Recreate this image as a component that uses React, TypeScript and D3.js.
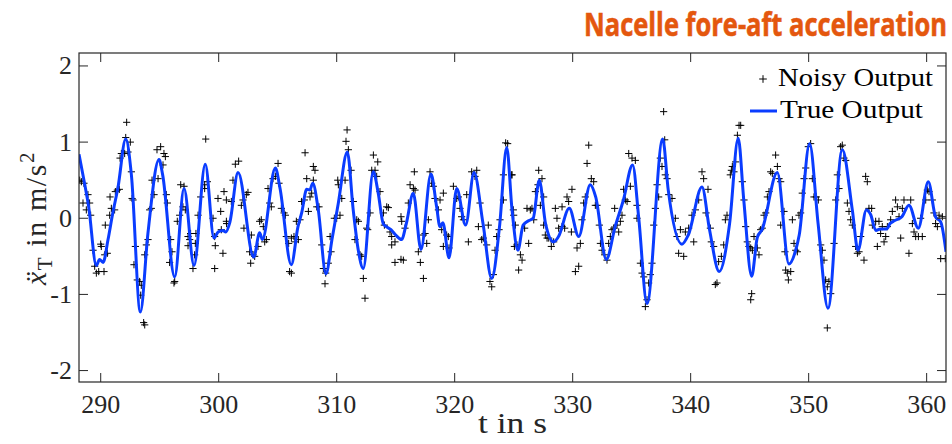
import React from "react";
import * as d3 from "d3";

const xTicks = [290, 300, 310, 320, 330, 340, 350, 360];
const yTicks = [-2, -1, 0, 1, 2];
const xDomain: [number, number] = [288.16, 361.64];
const yDomain: [number, number] = [-2.15, 2.17];

const titleText = "Nacelle fore-aft acceleration";
const legendLabels = ["Noisy Output", "True Output"];

// True output: key samples (t, value)
const trueOutput: [number, number][] = [
  [288.16, 0.84], [288.58, 0.5], [288.98, 0.15], [289.63, -0.62], [289.9, -0.54], [290.2, -0.58],
  [290.62, -0.28], [291.0, 0.05], [291.47, 0.41], [292.12, 1.04], [292.6, 0.57], [293.36, -1.23],
  [294.0, -0.2], [294.94, 0.77], [295.25, 0.57], [296.27, -0.77], [297.06, 0.39], [297.91, -0.62],
  [298.86, 0.71], [299.6, -0.26], [299.95, -0.18], [300.35, -0.16], [300.6, -0.18], [300.95, -0.05],
  [301.64, 0.6], [302.97, -0.51], [303.47, -0.19], [303.7, -0.28], [304.8, 0.66], [305.2, 0.39],
  [306.15, -0.61], [306.72, -0.11], [307.03, 0.07], [307.46, 0.38], [307.72, 0.37], [307.97, 0.46],
  [308.44, 0.11], [309.09, -0.73], [309.6, -0.28], [310.14, 0.2], [310.9, 0.87], [311.4, 0.11],
  [311.83, -0.42], [312.25, -0.66], [313.1, 0.61], [313.52, 0.33], [313.94, -0.07], [314.2, -0.11],
  [314.6, -0.15], [315.0, -0.22], [315.5, -0.28], [315.9, -0.07], [316.49, 0.33], [317.14, -0.41],
  [317.99, 0.58], [318.47, 0.15], [318.75, -0.11], [319.0, -0.06], [319.52, -0.52], [320.17, 0.39],
  [320.93, -0.09], [321.64, 0.6], [322.4, -0.07], [323.14, -0.79], [323.8, -0.11], [324.41, 0.93],
  [324.86, 0.11], [325.36, -0.42], [325.8, -0.09], [326.3, -0.03], [326.65, 0.0], [327.17, 0.5],
  [327.7, -0.07], [328.39, -0.31], [328.8, -0.24], [329.71, 0.13], [330.51, -0.24], [331.49, 0.44],
  [331.95, 0.28], [332.85, -0.54], [333.6, -0.11], [334.3, 0.24], [335.08, 0.7], [335.6, 0.0],
  [336.3, -1.12], [337.63, 1.04], [338.1, 0.37], [339.26, -0.34], [339.8, -0.22], [340.96, 0.41],
  [341.6, -0.15], [342.42, -0.7], [343.3, -0.07], [344.03, 1.05], [344.5, 0.24], [345.17, -0.76],
  [345.65, -0.25], [346.05, -0.15], [347.34, 0.6], [348.33, -0.6], [348.9, -0.42], [349.2, -0.22],
  [350.08, 0.98], [350.8, -0.07], [351.64, -1.18], [352.85, 0.9], [353.7, 0.11], [354.18, -0.42],
  [354.89, 0.11], [355.25, 0.05], [355.69, -0.16], [356.1, -0.14], [356.6, -0.14], [356.9, -0.07],
  [357.3, -0.03], [357.9, 0.02], [358.5, 0.17], [359.29, -0.13], [360.14, 0.48], [360.75, 0.02],
  [361.2, -0.05], [361.64, -0.44],
];

// Noisy output samples (t, value)
const noisyOutput: [number, number][] = [
  [288.22, 0.5], [288.36, 0.48], [288.58, 0.46], [288.5, 0.2], [288.92, 0.31], [289.06, 0.2], [288.78, 0.11],
  [289.15, 0.04], [289.35, -0.42], [289.49, -0.63], [289.63, -0.72], [289.83, -0.7], [290.28, -0.7], [290.0, -0.34],
  [290.05, -0.37], [290.34, -0.48], [290.56, -0.46], [290.39, -0.09], [290.76, 0.04], [290.9, 0.13], [290.79, 0.28],
  [291.18, 0.11], [291.24, 0.35], [291.41, 0.37], [291.58, 0.38], [291.64, 0.79], [291.75, 0.85], [292.03, 0.85],
  [292.2, 1.26], [292.12, 1.06], [292.51, 1.0], [292.31, 0.87], [292.6, 0.61], [292.66, 0.26], [292.74, 0.24],
  [292.94, -0.37], [292.82, -0.61], [293.1, -0.81], [293.3, -0.83], [293.39, -1.01], [293.44, -0.88], [293.64, -1.37],
  [293.73, -1.4], [293.73, -0.48], [293.87, -0.35], [294.01, -0.28], [294.15, 0.11], [294.29, 0.13], [294.52, 0.31],
  [294.35, 0.5], [294.86, 0.52], [294.77, 0.9], [295.08, 0.94], [295.36, 0.85], [295.48, 0.81], [295.28, 0.7],
  [295.56, 0.31], [295.65, 0.2], [295.93, -0.28], [296.04, -0.44], [295.84, -0.58], [296.27, -0.83], [296.21, -0.85],
  [296.49, -0.04], [296.69, 0.04], [296.78, 0.44], [297.06, 0.42], [296.97, 0.15], [297.17, 0.11], [297.4, -0.24],
  [297.4, -0.36], [297.54, -0.28], [297.62, -0.2], [297.96, -0.48], [298.02, -0.33], [297.82, -0.66], [298.07, -0.2],
  [298.25, 0.04], [298.47, 0.28], [298.81, 0.44], [298.9, 1.04], [299.04, 0.48], [298.81, 0.39], [299.52, 0.0],
  [299.66, -0.24], [299.71, -0.36], [299.66, -0.66], [299.94, 0.26], [300.17, 0.09], [300.22, -0.15], [300.45, 0.35],
  [300.65, -0.04], [300.67, -0.07], [300.36, -0.46], [300.65, 0.24], [301.07, 0.22], [301.21, 0.5], [301.41, 0.71],
  [301.69, 0.75], [301.92, 0.17], [302.06, 0.24], [302.14, -0.13], [302.34, 0.31], [302.48, 0.34], [302.62, -0.44],
  [302.77, -0.22], [302.71, -0.59], [302.91, -0.48], [303.05, -0.5], [303.33, -0.37], [303.47, -0.04], [303.61, -0.02],
  [303.78, -0.11], [303.9, -0.31], [304.04, -0.28], [304.32, 0.2], [304.18, 0.39], [304.46, 0.15], [304.6, 0.52],
  [304.8, 0.55], [305.03, 0.72], [305.11, 0.46], [305.31, 0.13], [305.54, 0.07], [305.65, 0.04], [305.73, -0.24],
  [305.93, -0.33], [306.16, -0.26], [306.38, -0.24], [306.01, -0.7], [306.16, -0.72], [306.58, -0.04],
  [306.47, -0.31], [306.75, -0.28], [306.89, -0.02], [307.32, 0.86], [307.03, 0.22], [307.26, 0.24], [307.46, 0.52],
  [307.6, 0.09], [307.74, 0.28], [307.88, 0.33], [308.02, 0.68], [308.16, 0.63], [308.02, 0.5], [308.31, 0.15],
  [308.5, 0.15], [308.73, -0.35], [308.87, -0.66], [309.07, -0.72], [309.01, -0.86], [309.29, -0.59], [309.52, -0.44],
  [309.44, -0.24], [309.8, 0.0], [310.0, 0.0], [310.28, 0.04], [310.09, 0.5], [310.43, 0.26], [310.14, 0.44],
  [310.71, 0.5], [310.79, 1.01], [310.88, 1.16], [310.99, 0.9], [311.22, 0.63], [311.41, 0.22], [311.7, -0.02],
  [311.84, -0.04], [311.55, -0.28], [311.98, -0.48], [312.12, -0.5], [312.26, -0.79], [312.4, -1.05], [312.54, -0.13],
  [312.63, -0.15], [312.83, 0.07], [313.11, 0.83], [313.48, 0.74], [313.25, 0.63], [312.97, 0.63], [313.39, 0.55],
  [313.67, 0.35], [313.96, 0.07], [314.24, 0.15], [314.38, 0.14], [314.04, -0.09], [314.52, -0.18], [314.66, -0.24],
  [314.66, -0.35], [314.94, -0.31], [314.94, -0.58], [315.45, -0.54], [315.65, -0.55], [315.45, 0.02], [315.51, -0.04],
  [315.79, -0.13], [316.07, 0.2], [316.22, 0.44], [316.5, 0.39], [316.58, 0.61], [316.64, 0.37], [316.92, -0.44],
  [317.09, -0.58], [317.35, -0.79], [317.35, -0.22], [317.49, -0.2], [317.63, -0.33], [317.77, -0.02], [317.91, 0.61],
  [318.05, 0.46], [318.19, 0.42], [318.33, 0.26], [318.62, 0.11], [318.76, 0.24], [319.04, 0.33], [318.9, -0.15],
  [319.04, -0.37], [319.32, -0.22], [319.46, -0.24], [319.52, -0.39], [319.89, 0.42], [320.17, 0.26], [320.31, 0.28],
  [320.45, 0.13], [320.59, 0.02], [320.74, -0.02], [321.02, 0.31], [321.16, -0.31], [321.44, 0.61], [321.87, 0.63],
  [321.72, 0.55], [322.15, 0.2], [322.01, -0.11], [322.29, -0.28], [322.43, -0.26], [322.71, -0.35], [322.85, -0.09],
  [322.99, -0.83], [323.14, -0.9], [323.28, -0.74], [323.42, -0.42], [323.56, -0.24], [323.76, -0.15], [323.84, -0.02],
  [324.13, 0.24], [324.13, 0.57], [324.32, 0.99], [324.49, 0.98], [324.83, 0.57], [324.97, 0.11], [325.06, -0.37],
  [324.86, 0.57], [325.0, 0.04], [325.14, -0.09], [325.28, -0.35], [325.42, -0.68], [325.57, -0.48], [325.71, -0.55],
  [325.93, -0.13], [326.13, 0.13], [326.27, -0.33], [326.41, 0.11], [326.55, 0.13], [326.7, -0.02], [326.84, 0.35],
  [327.06, 0.44], [327.12, 0.63], [327.4, 0.52], [327.26, 0.17], [327.54, 0.28], [327.54, -0.09], [327.68, -0.22],
  [327.83, -0.26], [327.97, -0.26], [328.19, -0.37], [328.39, -0.31], [328.53, 0.13], [328.67, 0.0], [328.81, -0.13],
  [329.1, -0.11], [329.1, 0.15], [329.32, -0.13], [329.52, 0.28], [329.66, 0.22], [329.94, 0.38], [329.89, -0.18],
  [330.23, -0.7], [330.51, -0.63], [330.37, -0.39], [330.65, -0.33], [330.79, -0.02], [330.93, 0.2], [331.07, 0.28],
  [331.22, 0.72], [331.36, 0.96], [331.58, 0.52], [331.78, 0.48], [331.92, 0.17], [332.06, 0.17], [332.26, -0.09],
  [332.35, -0.33], [332.49, -0.42], [332.71, -0.48], [332.91, -0.55], [333.05, -0.33], [333.19, -0.24], [333.33, -0.15],
  [333.48, -0.13], [333.56, 0.13], [333.76, -0.09], [333.9, -0.18], [334.04, -0.04], [334.18, 0.04], [334.32, 0.38],
  [334.46, 0.24], [334.61, 0.22], [334.75, 0.85], [334.89, 0.42], [335.03, 0.79], [335.31, 0.76], [335.45, 0.17],
  [335.45, 0.0], [335.74, -0.59], [335.88, -0.72], [336.02, -0.77], [336.16, -1.16], [336.3, -1.07], [336.44, -0.85],
  [336.58, -0.74], [336.72, -0.59], [336.87, -0.09], [337.01, 0.13], [337.15, 0.44], [337.29, 0.28], [337.43, 0.79],
  [337.57, 0.68], [337.71, 1.4], [337.8, 1.03], [337.85, 0.57], [338.0, 0.52], [338.14, 0.31], [338.42, 0.26],
  [338.7, 0.0], [338.84, -0.24], [338.98, -0.46], [339.13, -0.15], [339.41, -0.5], [339.55, -0.18], [339.83, -0.13],
  [340.11, 0.04], [340.26, -0.31], [340.4, 0.11], [340.68, 0.24], [340.96, 0.61], [341.1, 0.52], [341.3, 0.07],
  [341.47, 0.38], [341.67, -0.13], [341.75, -0.31], [341.95, -0.37], [342.09, -0.87], [342.23, -0.85], [342.37, -0.57],
  [342.6, -0.5], [342.8, -0.35], [342.94, -0.02], [343.08, 0.04], [343.36, 0.57], [343.45, 0.63],
  [343.53, 0.68], [343.67, 0.61], [343.81, 0.74], [343.96, 1.09], [344.1, 1.22], [344.24, 1.22], [344.38, 0.48],
  [344.52, 0.24], [344.66, -0.11], [344.8, -0.31], [344.94, -0.37], [345.09, -0.39], [345.23, -0.42], [345.17, -0.99],
  [345.09, -1.07], [345.37, -0.24], [345.65, -0.39], [345.79, -0.48], [345.93, -0.15], [346.07, -0.13], [346.22, 0.04],
  [346.36, 0.07], [346.5, 0.28], [346.64, 0.35], [346.78, 0.61], [346.92, 0.59], [347.2, 0.83], [347.35, 0.68],
  [347.49, 0.52], [347.63, 0.48], [347.63, -0.09], [347.91, 0.09], [347.99, -0.44], [348.05, -0.68], [348.19, -0.72],
  [348.28, -0.81], [348.48, -0.7], [348.62, -0.02], [348.76, -0.33], [348.9, -0.42], [349.04, -0.44], [349.18, 0.04],
  [349.32, 0.07], [349.46, 0.33], [349.61, 0.52], [349.75, 0.66], [349.97, 0.94], [350.17, 0.98], [350.31, 0.52],
  [350.45, 0.28], [350.65, 0.28], [350.82, 0.24], [351.02, -0.35], [351.16, -0.42], [351.3, -0.55], [351.44, -0.81],
  [351.58, -0.9], [351.72, -0.83], [351.87, -0.99], [351.58, -1.44], [352.15, -0.33], [352.29, 0.24], [352.43, 0.57],
  [352.57, 0.39], [352.71, 0.94], [352.85, 0.96], [352.99, 0.79], [353.14, 0.76], [353.28, 0.2], [353.42, 0.09],
  [353.56, -0.02], [353.7, -0.09], [353.98, -0.37], [354.13, -0.46], [354.27, -0.44], [354.41, -0.24], [354.69, -0.55],
  [354.83, 0.55], [354.97, 0.48], [355.11, 0.13], [355.34, 0.13], [355.4, -0.09], [355.68, -0.04], [355.82, -0.37],
  [355.96, -0.04], [356.1, -0.2], [356.24, -0.11], [356.39, -0.31], [356.53, -0.24], [356.67, -0.11], [356.95, -0.02],
  [357.09, 0.09], [357.37, 0.24], [357.52, 0.15], [357.66, 0.02], [357.8, -0.26], [357.94, 0.13], [358.08, 0.24],
  [358.5, -0.46], [358.65, 0.24], [358.79, -0.07], [358.93, -0.18], [359.07, -0.24], [359.3, -0.24], [359.49, 0.0],
  [359.63, -0.24], [359.92, 0.24], [360.06, 0.37], [360.2, 0.35], [360.48, 0.24], [360.62, 0.07], [360.76, -0.07],
  [360.91, -0.11], [361.05, 0.04], [361.33, 0.02], [361.19, -0.53], [361.58, -0.53],
];

const W = 952;
const H = 444;
const M = { left: 79, right: 946, top: 53, bottom: 382 };
const TICK = 9;
const AXIS = "#262626";
const BLUE = "#0a3cff";
const ORANGE = "#e4570e";
const SERIF = "'Liberation Serif', 'Times New Roman', serif";

export default function App() {
  const x = d3.scaleLinear().domain(xDomain).range([M.left, M.right]);
  const y = d3.scaleLinear().domain(yDomain).range([M.bottom, M.top]);
  const line = d3
    .line<[number, number]>()
    .x((d) => x(d[0]))
    .y((d) => y(d[1]))
    .curve(d3.curveMonotoneX);
  const s = 3.6;
  const plus = (cx: number, cy: number, r: number) =>
    `M${cx - r},${cy}H${cx + r}M${cx},${cy - r}V${cy + r}`;
  const noisyPath = noisyOutput.map((d) => plus(x(d[0]), y(d[1]), s)).join("");

  return (
    <svg
      width={W}
      height={H}
      viewBox={`0 0 ${W} ${H}`}
      style={{ position: "absolute", left: 0, top: 0, display: "block", background: "#fff" }}
    >
      <defs>
        <clipPath id="plotClip">
          <rect x={M.left} y={M.top} width={M.right - M.left} height={M.bottom - M.top} />
        </clipPath>
      </defs>
      <rect x={0} y={0} width={W} height={H} fill="#fff" />

      {/* title */}
      <text
        x={947}
        y={36}
        textAnchor="end"
        fill={ORANGE}
        fontFamily="'Liberation Sans Narrow', 'Open Sans', 'Liberation Sans', sans-serif"
        fontWeight="bold"
        fontSize={33}
        stroke={ORANGE}
        strokeWidth={0.6}
        textLength={363}
        lengthAdjust="spacingAndGlyphs"
      >
        {titleText}
      </text>

      {/* data */}
      <g clipPath="url(#plotClip)">
        <path d={noisyPath} stroke="#000" strokeWidth={1} fill="none" />
        <path d={line(trueOutput) || ""} stroke={BLUE} strokeWidth={3} fill="none" strokeLinejoin="round" />
      </g>

      {/* axes box */}
      <rect
        x={M.left}
        y={M.top}
        width={M.right - M.left}
        height={M.bottom - M.top}
        fill="none"
        stroke={AXIS}
        strokeWidth={1.2}
      />
      {xTicks.map((t) => (
        <g key={"xt" + t}>
          <line x1={x(t)} x2={x(t)} y1={M.bottom} y2={M.bottom - TICK} stroke={AXIS} strokeWidth={1} />
          <line x1={x(t)} x2={x(t)} y1={M.top} y2={M.top + TICK} stroke={AXIS} strokeWidth={1} />
          <text x={x(t)} y={413} textAnchor="middle" fontFamily={SERIF} fontSize={26} fill={AXIS}>
            {t}
          </text>
        </g>
      ))}
      {yTicks.map((v) => (
        <g key={"yt" + v}>
          <line x1={M.left} x2={M.left + TICK} y1={y(v)} y2={y(v)} stroke={AXIS} strokeWidth={1} />
          <line x1={M.right} x2={M.right - TICK} y1={y(v)} y2={y(v)} stroke={AXIS} strokeWidth={1} />
          <text x={72} y={y(v) + 8.5} textAnchor="end" fontFamily={SERIF} fontSize={26} fill={AXIS}>
            {v}
          </text>
        </g>
      ))}

      {/* axis labels */}
      <text
        x={(M.left + M.right) / 2}
        y={433}
        textAnchor="middle"
        fontFamily={SERIF}
        fontSize={30}
        fill={AXIS}
        textLength={69}
        lengthAdjust="spacingAndGlyphs"
      >
        t in s
      </text>
      <text
        transform={`translate(46, 218) rotate(-90)`}
        textAnchor="middle"
        fontFamily={SERIF}
        fontSize={30}
        fill={AXIS}
        letterSpacing={1.6}
      >
        <tspan fontStyle="italic">ẍ</tspan>
        <tspan fontSize={21} dy={6}>T</tspan>
        <tspan dy={-6}> in m/s</tspan>
        <tspan fontSize={21} dy={-12}>2</tspan>
      </text>

      {/* legend */}
      <path d={plus(763, 79, 3.8)} stroke="#000" strokeWidth={1} />
      <text x={778} y={86} fontFamily={SERIF} fontSize={26} fill="#000" textLength={155} lengthAdjust="spacingAndGlyphs">
        {legendLabels[0]}
      </text>
      <line x1={750} x2={777} y1={111} y2={111} stroke={BLUE} strokeWidth={3} />
      <text x={780} y={118} fontFamily={SERIF} fontSize={26} fill="#000" textLength={143} lengthAdjust="spacingAndGlyphs">
        {legendLabels[1]}
      </text>
    </svg>
  );
}
